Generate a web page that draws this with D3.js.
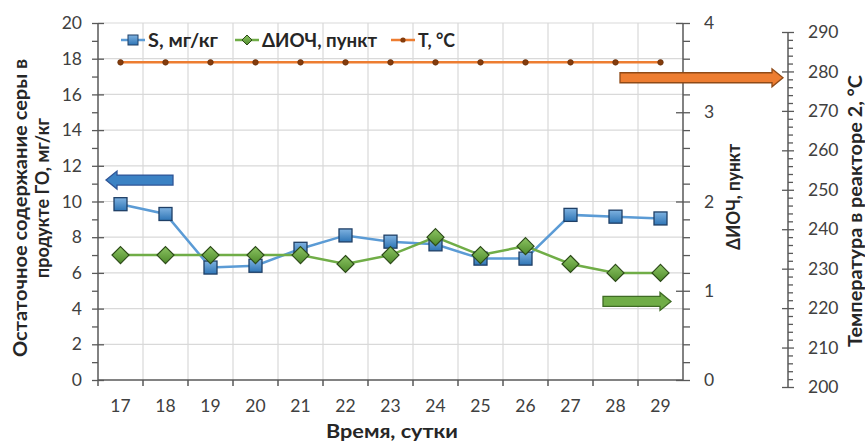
<!DOCTYPE html>
<html><head><meta charset="utf-8">
<script src="https://cdn.jsdelivr.net/npm/d3@7"></script>
<style>body{margin:0;background:#fff}svg{display:block;font-family:Lato,'Open Sans',sans-serif}</style>
</head><body><svg id="c" width="865" height="443"></svg>
<script>
const days = ["17","18","19","20","21","22","23","24","25","26","27","28","29"];
const sValues = [9.85,9.3,6.3,6.4,7.35,8.1,7.75,7.6,6.8,6.8,9.25,9.15,9.05];
const dIOCH = [1.4,1.4,1.4,1.4,1.4,1.3,1.4,1.6,1.4,1.5,1.3,1.2,1.2];
const tValues = [282.3,282.3,282.3,282.3,282.3,282.3,282.3,282.3,282.3,282.3,282.3,282.3,282.3];
const seriesNames = ["S, мг/кг","ΔИОЧ, пункт","T, °C"];
const leftTicks = [0,2,4,6,8,10,12,14,16,18,20];
const rightTicks = [0,1,2,3,4];
const tempTicks = [200,210,220,230,240,250,260,270,280,290];

const svg = d3.select("#c");
const L=98,R=683,T=23,B=380;
const x = d3.scaleBand().domain(days).range([L,R]);
const yL = d3.scaleLinear().domain([0,20]).range([B,T]);
const yR = d3.scaleLinear().domain([0,4]).range([B,T]);
const yT = d3.scaleLinear().domain([200,290]).range([387,32]);
const axisCol="#595959", gridCol="#d9d9d9", txt="#404040";

const defs = svg.append("defs");
const g1 = defs.append("linearGradient").attr("id","gb").attr("x1",0).attr("y1",0).attr("x2",0).attr("y2",1);
g1.append("stop").attr("offset","0").attr("stop-color","#7fb2e0");
g1.append("stop").attr("offset","1").attr("stop-color","#2e75b6");
const g2 = defs.append("linearGradient").attr("id","gg").attr("x1",0).attr("y1",0).attr("x2",0).attr("y2",1);
g2.append("stop").attr("offset","0").attr("stop-color","#8cc463");
g2.append("stop").attr("offset","1").attr("stop-color","#4e8a2a");

// gridlines
svg.append("g").selectAll("line").data(leftTicks.slice(1)).join("line")
  .attr("x1",L).attr("x2",R).attr("y1",d=>yL(d)).attr("y2",d=>yL(d))
  .attr("stroke",gridCol).attr("stroke-width",1.2);
svg.append("g").selectAll("line").data(days.slice(1)).join("line")
  .attr("x1",d=>x(d)).attr("x2",d=>x(d)).attr("y1",T).attr("y2",B)
  .attr("stroke",gridCol).attr("stroke-width",1.2);

// left axis
const la = svg.append("g").attr("transform",`translate(${L},0)`);
la.call(d3.axisLeft(yL).tickValues(d3.range(1,20,2)).tickSize(6).tickFormat(""));
const laM = svg.append("g").attr("transform",`translate(${L},0)`).call(d3.axisLeft(yL).tickValues(leftTicks).tickSize(6).tickPadding(10).tickFormat(d3.format("d")));
laM.selectAll(".tick line").attr("x2",6).attr("x1",-6);
// right axis (ΔИОЧ)
const ra = svg.append("g").attr("transform",`translate(${R},0)`);
ra.call(d3.axisRight(yR).tickValues(d3.range(0.2,4,0.2).filter(v=>Math.abs(v-Math.round(v))>0.01)).tickSize(7).tickFormat(""));
const raM = svg.append("g").attr("transform",`translate(${R},0)`).call(d3.axisRight(yR).tickValues(rightTicks).tickSize(7).tickPadding(14).tickFormat(d3.format("d")));
raM.selectAll(".tick line").attr("x1",-7);
// temperature axis
const TX=788;
const ta = svg.append("g").attr("transform",`translate(${TX},0)`);
ta.call(d3.axisRight(yT).tickValues(d3.range(202,290,2).filter(v=>v%10!==0)).tickSize(5).tickFormat(""));
const taM = svg.append("g").attr("transform",`translate(${TX},0)`).call(d3.axisRight(yT).tickValues(tempTicks).tickSize(6).tickPadding(14).tickFormat(d3.format("d")));
taM.selectAll(".tick line").attr("x1",-6);
// x axis
const xa = svg.append("g").attr("transform",`translate(0,${B})`);
xa.call(d3.axisBottom(x).tickSize(0).tickPadding(20));
xa.append("g").selectAll("line").data(days.slice(1)).join("line")
  .attr("x1",d=>x(d)).attr("x2",d=>x(d)).attr("y1",0).attr("y2",6);
xa.append("line").attr("x1",L).attr("x2",L).attr("y1",0).attr("y2",6);

[la,laM,ra,raM,ta,taM,xa].forEach(g=>{
  g.selectAll("path.domain").attr("stroke",axisCol).attr("stroke-width",1.5);
  g.selectAll("line").attr("stroke",axisCol).attr("stroke-width",1.3);
  g.selectAll("text").attr("fill",txt).attr("font-size",17.5).attr("font-family","Lato, 'Open Sans', sans-serif");
});
xa.selectAll("line").attr("stroke",axisCol).attr("stroke-width",1.5);
xa.select("path.domain").attr("d",`M${L},0H${R}`);
la.select("path.domain").attr("d",`M0,${T}V${B}`);
laM.select("path.domain").remove();
ra.select("path.domain").attr("d",`M0,${T}V${B}`);
raM.select("path.domain").remove();
ta.select("path.domain").attr("d",`M0,${yT(290)}V${yT(200)}`);
taM.select("path.domain").remove();

const cx = d=>x(d)+x.bandwidth()/2;

// T line
svg.append("path").datum(tValues).attr("fill","none").attr("stroke","#ed7d31").attr("stroke-width",2.5)
  .attr("d",d3.line().x((d,i)=>cx(days[i])).y(d=>yT(d)));
svg.append("g").selectAll("circle").data(tValues).join("circle")
  .attr("cx",(d,i)=>cx(days[i])).attr("cy",d=>yT(d)).attr("r",2.8)
  .attr("fill","#843c0c").attr("stroke","#5e2a08").attr("stroke-width",0.6);

// S line
svg.append("path").datum(sValues).attr("fill","none").attr("stroke","#5b9bd5").attr("stroke-width",2.5)
  .attr("d",d3.line().x((d,i)=>cx(days[i])).y(d=>yL(d)));
// ΔИОЧ line
svg.append("path").datum(dIOCH).attr("fill","none").attr("stroke","#70ad47").attr("stroke-width",2.5)
  .attr("d",d3.line().x((d,i)=>cx(days[i])).y(d=>yR(d)));

const sq=13;
svg.append("g").selectAll("rect").data(sValues).join("rect")
  .attr("x",(d,i)=>cx(days[i])-sq/2).attr("y",d=>yL(d)-sq/2).attr("width",sq).attr("height",sq)
  .attr("fill","url(#gb)").attr("stroke","#1f3f66").attr("stroke-width",1.3);
const dm=8.5;
svg.append("g").selectAll("path").data(dIOCH).join("path")
  .attr("d",(d,i)=>{const X=cx(days[i]),Y=yR(d);return `M${X},${Y-dm}L${X+dm},${Y}L${X},${Y+dm}L${X-dm},${Y}Z`;})
  .attr("fill","url(#gg)").attr("stroke","#2c4a18").attr("stroke-width",1.2);

// legend
const lg = svg.append("g").attr("font-weight","bold").attr("font-size",18).attr("fill","#262626");
const legX=[121,235,391], legCol=["#5b9bd5","#70ad47","#ed7d31"], legW=[70,115,37];
seriesNames.forEach((n,i)=>{
  const g=lg.append("g").attr("transform",`translate(${legX[i]},40)`);
  g.append("line").attr("x1",0).attr("x2",24).attr("stroke",legCol[i]).attr("stroke-width",2.5);
  if(i===0) g.append("rect").attr("x",7).attr("y",-5).attr("width",10).attr("height",10).attr("fill","url(#gb)").attr("stroke","#1f3f66").attr("stroke-width",1);
  if(i===1) g.append("path").attr("d","M12,-5L17,0L12,5L7,0Z").attr("fill","url(#gg)").attr("stroke","#2c4a18").attr("stroke-width",1);
  if(i===2) g.append("circle").attr("cx",12).attr("r",2.6).attr("fill","#843c0c");
  g.append("text").attr("x",27).attr("y",6.5).attr("textLength",legW[i]).attr("lengthAdjust","spacingAndGlyphs").text(n);
});

// arrows
function arrow(x0,x1,yc,dir,fill,stroke){
  const bh=5, hh=9, hl=11;
  let p;
  if(dir>0){const xh=x1-hl;p=`M${x0},${yc-bh}H${xh}V${yc-hh}L${x1},${yc}L${xh},${yc+hh}V${yc+bh}H${x0}Z`;}
  else {const xh=x0+hl;p=`M${x1},${yc-bh}H${xh}V${yc-hh}L${x0},${yc}L${xh},${yc+hh}V${yc+bh}H${x1}Z`;}
  svg.append("path").attr("d",p).attr("fill",fill).attr("stroke",stroke).attr("stroke-width",1.3);
}
arrow(106,173,yL(11.2),-1,"#3b82c4","#2f5597");
arrow(620,783,yT(278.4),1,"#ed7d31","#8f4a17");
arrow(603,671,yR(0.88),1,"#70ad47","#3f6b25");

// titles
const tt = svg.append("g").attr("font-weight","bold").attr("font-size",18).attr("fill","#262626").attr("text-anchor","middle");
const tl = (tx,ty,len,s)=>tt.append("text").attr("transform",`translate(${tx},${ty}) rotate(-90)`)
  .attr("textLength",len).attr("lengthAdjust","spacingAndGlyphs").text(s);
tl(27,208,298,"Остаточное содержание серы в");
tl(49,198,160,"продукте ГО, мг/кг");
tl(740,197,106,"ΔИОЧ, пункт");
tl(862,211,272,"Температура в реакторе 2, °С");
tt.append("text").attr("x",392).attr("y",438).attr("textLength",132).attr("lengthAdjust","spacingAndGlyphs").text("Время, сутки");
</script></body></html>
